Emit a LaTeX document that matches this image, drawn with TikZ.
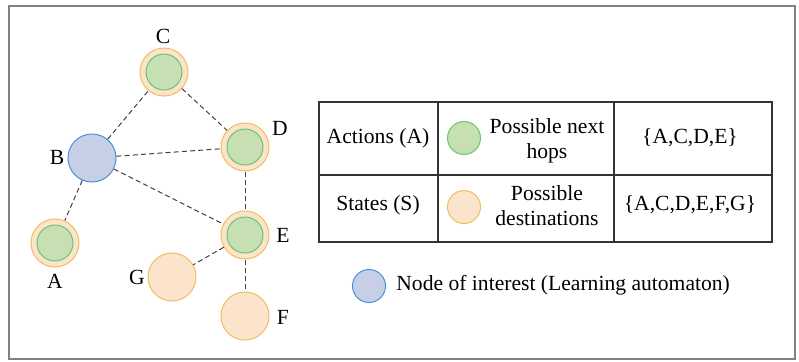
\documentclass[tikz,border=0pt]{standalone}
\usepackage{fontspec}
\setmainfont{Liberation Serif}
\definecolor{hopfill}{HTML}{C6E0B4}
\definecolor{hopline}{HTML}{6CC46C}
\definecolor{dstfill}{HTML}{FCE4CC}
\definecolor{dstline}{HTML}{EDC05E}
\definecolor{lafill}{HTML}{C7CFE7}
\definecolor{laline}{HTML}{4A90D9}
\definecolor{edgecol}{HTML}{404040}
\definecolor{gridcol}{HTML}{333333}
\definecolor{framecol}{HTML}{808080}
\tikzset{
  txt/.style={inner sep=0pt, font=\fontsize{10.8}{12.5}\selectfont},
  dest/.style={circle, draw=dstline, fill=dstfill, line width=0.5pt, minimum size=24pt, inner sep=0pt},
  hop/.style={circle, draw=hopline, fill=hopfill, line width=0.5pt, minimum size=18pt, inner sep=0pt},
  agent/.style={circle, draw=laline, fill=lafill, line width=0.5pt, minimum size=24pt, inner sep=0pt},
  keyhop/.style={hop, minimum size=16.5pt},
  keydest/.style={dest, minimum size=16.5pt},
  keyagent/.style={agent, minimum size=16.5pt},
  link/.style={draw=edgecol, line width=0.5pt, dash pattern=on 2.5pt off 1.6pt},
  grid/.style={draw=gridcol, line width=0.6pt},
}
\begin{document}
\begin{tikzpicture}[x=0.5pt, y=-0.5pt]
\useasboundingbox (0,0) rectangle (799,361);
% outer frame
\draw[draw=framecol, line width=1pt] (8.5,6) rectangle (795,358.5);

% network nodes
\node[dest] (C) at (164,72) {};  \node[hop] (Ci) at (C) {};
\node[dest] (D) at (245,147) {}; \node[hop] (Di) at (D) {};
\node[dest] (E) at (245,235) {}; \node[hop] (Ei) at (E) {};
\node[dest] (A) at (55,243) {};  \node[hop] (Ai) at (A) {};
\node[agent] (B) at (92,158) {};
\node[dest] (G) at (172,277) {};
\node[dest] (F) at (245,316) {};

% node labels
\node[txt] (lC) at (163,36) {C};
\node[txt] (lD) at (280,128) {D};
\node[txt] (lB) at (57,157) {B};
\node[txt] (lA) at (55,281) {A};
\node[txt] (lE) at (283,235) {E};
\node[txt] (lG) at (137,277) {G};
\node[txt] (lF) at (283,317) {F};

% links
\path[link] (B) -- (C);
\path[link] (C) -- (D);
\path[link] (B) -- (D);
\path[link] (B) -- (E);
\path[link] (B) -- (A);
\path[link] (D) -- (E);
\path[link] (E) -- (G);
\path[link] (E) -- (F);

% table grid
\draw[grid] (319,102) rectangle (772,242);
\draw[grid] (319,175) -- (772,175);
\draw[grid] (438,102) -- (438,242);
\draw[grid] (614,102) -- (614,242);

% table contents
\node[txt] (act) at (378,138) {Actions (A)};
\node[keyhop] (khop) at (464,138) {};
\node[txt, align=center] (nhop) at (547,140.5) {Possible next\\hops};
\node[txt] (aset) at (690,138) {\{A,C,D,E\}};

\node[txt] (st) at (378,205) {States (S)};
\node[keydest] (kdst) at (464,207) {};
\node[txt, align=center] (pdst) at (547,205.5) {Possible\\destinations};
\node[txt] (sset) at (690,205) {\{A,C,D,E,F,G\}};

% legend
\node[keyagent] (kag) at (369,286) {};
\node[txt, anchor=west] (lag) at (396,285) {Node of interest (Learning automaton)};
\end{tikzpicture}
\end{document}
